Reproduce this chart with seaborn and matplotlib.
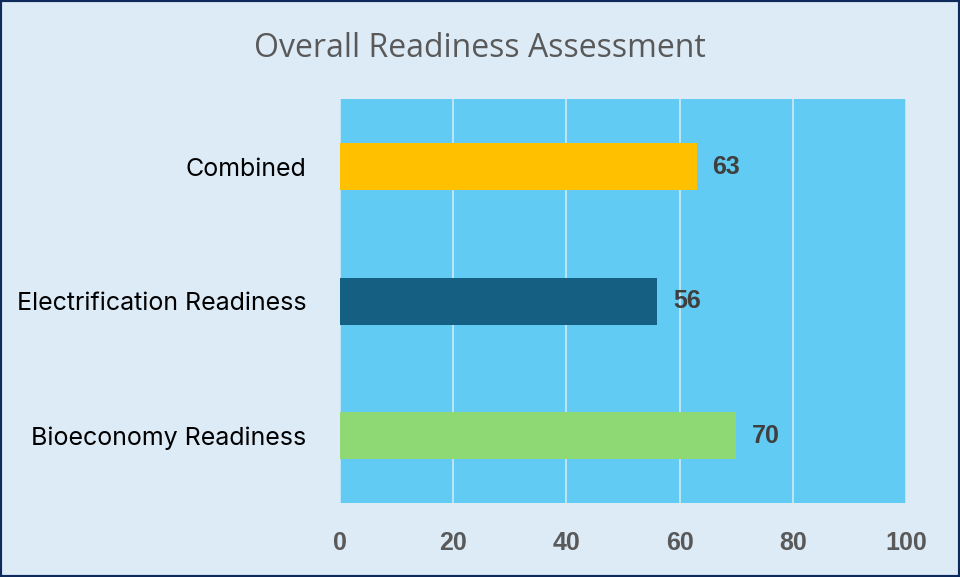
import matplotlib.pyplot as plt
import seaborn as sns
import pandas as pd
from matplotlib.patches import Rectangle

categories = ["Combined", "Electrification Readiness", "Bioeconomy Readiness"]
scores = [63, 56, 70]
bar_colors = ["#FFC000", "#156082", "#8ED973"]
x_ticks = [0, 20, 40, 60, 80, 100]

df = pd.DataFrame({"category": categories, "score": scores})

sns.set_theme(style="white")
plt.rcParams['font.family'] = ['Liberation Sans', 'DejaVu Sans']

fig = plt.figure(figsize=(9.6, 5.77), dpi=100, facecolor="#DDEBF7")
ax = fig.add_axes([0.354, 0.128, 0.59, 0.700])
ax.set_facecolor("#61CBF3")

sns.barplot(data=df, x="score", y="category", hue="category", palette=bar_colors,
            order=categories, width=0.35, legend=False, ax=ax, saturation=1,
            linewidth=0)

ax.set_xlim(0, 100)
ax.set_xticks(x_ticks)
ax.grid(axis="x", color="#CFE8F7", linewidth=1.2)
ax.set_axisbelow(True)
for s in ax.spines.values():
    s.set_visible(False)
ax.set_xlabel("")
ax.set_ylabel("")
ax.tick_params(axis="x", length=0, pad=20, labelsize=18, labelcolor="#595959")
ax.tick_params(axis="y", length=0, pad=24, labelsize=18, labelcolor="#000000")
for lbl in ax.get_xticklabels():
    lbl.set_fontweight("bold")
for lbl in ax.get_yticklabels():
    lbl.set_family(['Inter', 'DejaVu Sans'])

for i, v in enumerate(scores):
    ax.text(v + 2.8, i, str(v), va="center", ha="left", fontsize=18,
            fontweight="bold", color="#3F3F3F")

fig.suptitle("Overall Readiness Assessment", y=0.945, fontsize=23, color="#595959",
             family=['Open Sans', 'DejaVu Sans'])

fig.patches.append(Rectangle((0, 0), 1, 1, transform=fig.transFigure, fill=False,
                             edgecolor="#0E2A5C", linewidth=3))

fig.savefig("out.png", dpi=100, facecolor=fig.get_facecolor())
